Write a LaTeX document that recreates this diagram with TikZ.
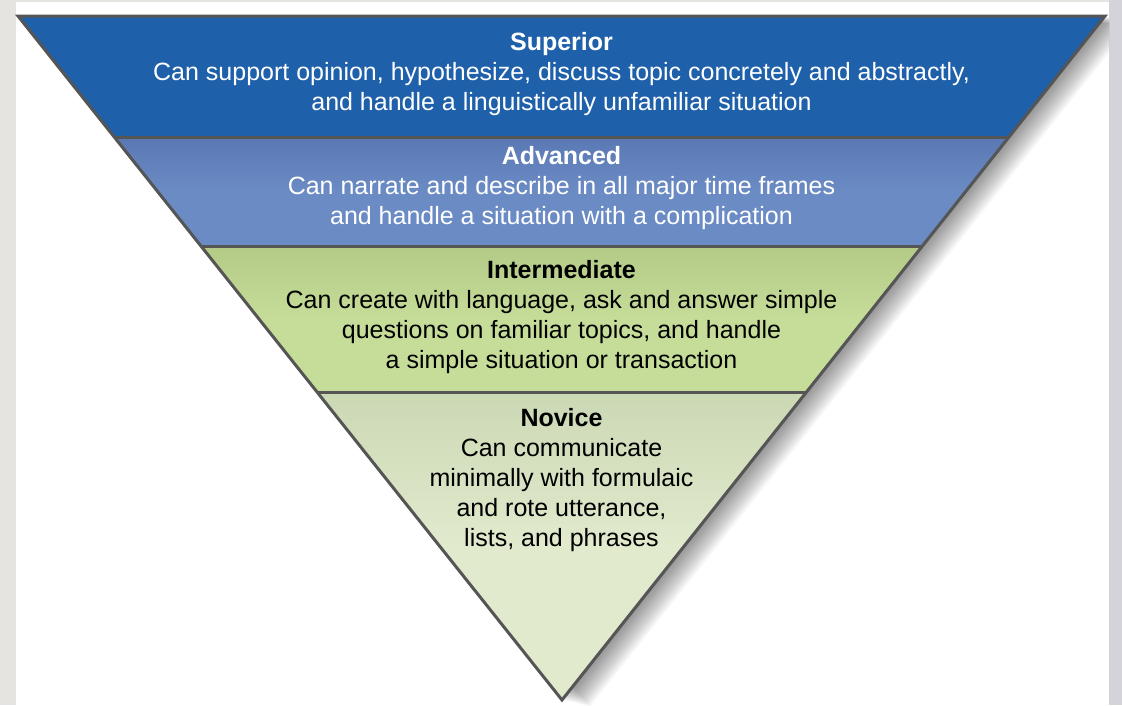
\documentclass[tikz,border=0pt]{standalone}
\usepackage{fontspec}
\setmainfont{Liberation Sans}
\usetikzlibrary{calc}
\definecolor{supblue}{HTML}{1F60AA}
\definecolor{advblue}{HTML}{6B8BC5}
\definecolor{advtop}{HTML}{5A79B4}
\definecolor{intgreen}{HTML}{C6DD99}
\definecolor{inttop}{HTML}{B4CB88}
\definecolor{novgreen}{HTML}{E1EACD}
\definecolor{novtop}{HTML}{CBD8B4}
\definecolor{edge}{HTML}{555555}
\definecolor{leftbg}{HTML}{E6E4E0}
\definecolor{rightbg}{HTML}{D4D3D9}
\tikzset{
  bandtext/.style={align=center,font=\fontsize{25}{30}\selectfont,inner sep=0pt},
  outline/.style={draw=edge,line width=3pt,line join=miter},
  shadowlayer/.style={fill=black,opacity=0.022},
}
\begin{document}
\begin{tikzpicture}[x=1pt,y=-1pt]
\useasboundingbox (0,0) rectangle (1122,705);
\fill[leftbg] (0,0) rectangle (1122,705);
\fill[rightbg] (1109,0) rectangle (1122,705);
\fill[white] (16,2) rectangle (1109,705);
\coordinate (TL) at (18,16);
\coordinate (TR) at (1105,16);
\coordinate (A) at (562,700);
\coordinate (L1) at ($(TL)!0.1769!(A)$);
\coordinate (R1) at ($(TR)!0.1769!(A)$);
\coordinate (L2) at ($(TL)!0.3377!(A)$);
\coordinate (R2) at ($(TR)!0.3377!(A)$);
\coordinate (L3) at ($(TL)!0.5497!(A)$);
\coordinate (R3) at ($(TR)!0.5497!(A)$);
% soft shadow to the right
\begin{scope}
\clip (16,2) rectangle (1109,705);
\foreach \i in {1,...,20}{
  \fill[shadowlayer] ($(TL)+(\i*1.4,\i*0.35)$) -- ($(TR)+(\i*1.4,\i*0.35)$) -- ($(A)+(\i*1.4,\i*0.35)$) -- cycle;
}
\end{scope}
% bands
\fill[supblue] (TL) -- (TR) -- (R1) -- (L1) -- cycle;
\shade[top color=advtop,bottom color=advblue,middle color=advblue] (L1) -- (R1) -- (R2) -- (L2) -- cycle;
\shade[top color=inttop,bottom color=intgreen,middle color=intgreen] (L2) -- (R2) -- (R3) -- (L3) -- cycle;
\shade[top color=novtop,bottom color=novgreen,middle color=novgreen] (L3) -- (R3) -- (A) -- cycle;
% dividers and outline
\draw[outline] (L1) -- (R1);
\draw[outline] (L2) -- (R2);
\draw[outline] (L3) -- (R3);
\draw[outline] (TL) -- (TR) -- (A) -- cycle;
% texts
\node[bandtext,text=white] (sup) at (561.5,74.3) {{\bfseries Superior}\\Can support opinion, hypothesize, discuss topic concretely and abstractly,\\and handle a linguistically unfamiliar situation};
\node[bandtext,text=white] (adv) at (561.5,187.7) {{\bfseries Advanced}\\Can narrate and describe in all major time frames\\and handle a situation with a complication};
\node[bandtext,text=black] (int) at (561.5,317) {{\bfseries Intermediate}\\Can create with language, ask and answer simple\\questions on familiar topics, and handle\\a simple situation or transaction};
\node[bandtext,text=black] (nov) at (561.5,479.8) {{\bfseries Novice}\\Can communicate\\minimally with formulaic\\and rote utterance,\\lists, and phrases};
\end{tikzpicture}
\end{document}
